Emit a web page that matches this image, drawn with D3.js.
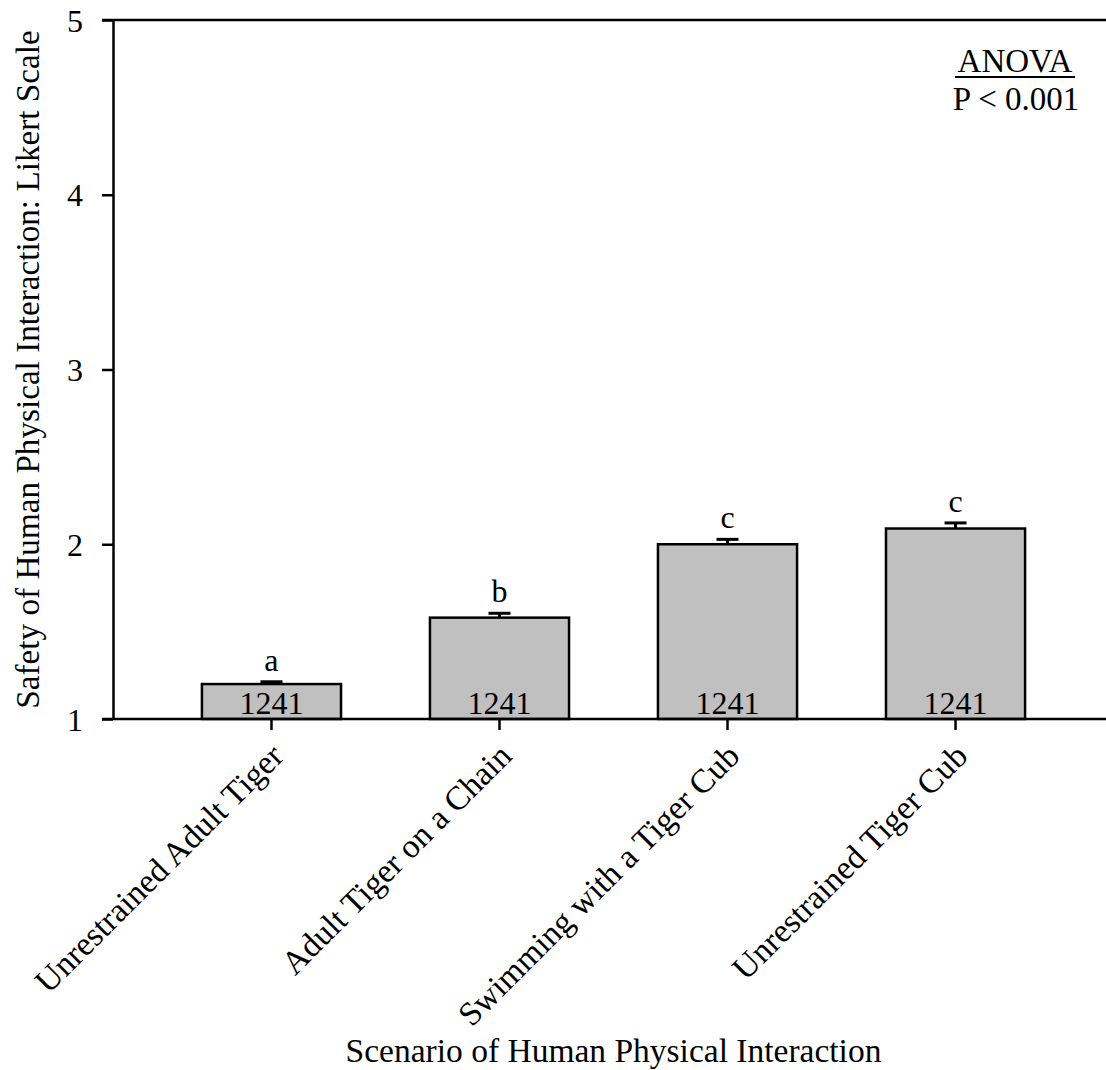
<!DOCTYPE html>
<html>
<head>
<meta charset="utf-8">
<script src="https://cdn.jsdelivr.net/npm/d3@7"></script>
<style>
  html, body { margin: 0; padding: 0; background: #fff; }
  svg text { font-family: "Liberation Serif", "Times New Roman", serif; fill: #000; }
</style>
</head>
<body>
<svg id="chart" width="1106" height="1070"></svg>
<script>
// Scenario categories and their mean safety ratings
const scenarios = [
  "Unrestrained Adult Tiger",
  "Adult Tiger on a Chain",
  "Swimming with a Tiger Cub",
  "Unrestrained Tiger Cub"
];
const means = [1.20, 1.58, 2.00, 2.09];
const stdErrors = [0.013, 0.025, 0.028, 0.032];
const groupLetters = ["a", "b", "c", "c"];
const sampleSizes = [1241, 1241, 1241, 1241];
const yTicks = [1, 2, 3, 4, 5];

const svg = d3.select("#chart");
const margin = { left: 113, top: 20, right: 1114, bottom: 719 };

const x = d3.scaleBand()
  .domain(scenarios)
  .range([margin.left, margin.right])
  .paddingInner(0.39)
  .paddingOuter(0.39);

const y = d3.scaleLinear()
  .domain([1, 5])
  .range([margin.bottom, margin.top]);

const rows = scenarios.map((s, i) => ({
  name: s, mean: means[i], se: stdErrors[i], letter: groupLetters[i], n: sampleSizes[i]
}));

// Bars
svg.append("g").selectAll("rect")
  .data(rows)
  .join("rect")
  .attr("x", d => x(d.name))
  .attr("y", d => y(d.mean))
  .attr("width", x.bandwidth())
  .attr("height", d => y(1) - y(d.mean))
  .attr("fill", "#c0c0c0")
  .attr("stroke", "#000")
  .attr("stroke-width", 2.5);

// Error bars (upper only)
const err = svg.append("g").attr("stroke", "#000").attr("stroke-width", 3);
rows.forEach(d => {
  const cx = x(d.name) + x.bandwidth() / 2;
  err.append("line")
    .attr("x1", cx).attr("x2", cx)
    .attr("y1", y(d.mean)).attr("y2", y(d.mean + d.se));
  err.append("line")
    .attr("x1", cx - 11).attr("x2", cx + 11)
    .attr("y1", y(d.mean + d.se)).attr("y2", y(d.mean + d.se));
});

// Significance letters
svg.append("g").selectAll("text")
  .data(rows)
  .join("text")
  .attr("x", d => x(d.name) + x.bandwidth() / 2)
  .attr("y", d => y(d.mean + d.se) - 11)
  .attr("text-anchor", "middle")
  .attr("font-size", 32)
  .text(d => d.letter);

// Sample sizes inside bars
svg.append("g").selectAll("text")
  .data(rows)
  .join("text")
  .attr("x", d => x(d.name) + x.bandwidth() / 2)
  .attr("y", y(1) - 5)
  .attr("text-anchor", "middle")
  .attr("font-size", 32)
  .text(d => d.n);

// Y axis
const yAxis = d3.axisLeft(y)
  .tickValues(yTicks)
  .tickFormat(d3.format("d"))
  .tickSize(11)
  .tickSizeOuter(0)
  .tickPadding(19);
const gy = svg.append("g")
  .attr("transform", `translate(${margin.left},0)`)
  .call(yAxis);
gy.select(".domain").attr("stroke-width", 2.5);
gy.selectAll(".tick line").attr("stroke-width", 2.5);
gy.selectAll(".tick text")
  .attr("font-family", "Liberation Serif, serif")
  .attr("font-size", 32)
  .attr("dy", "0.35em");

// X axis
const xAxis = d3.axisBottom(x).tickSize(11).tickSizeOuter(0).tickFormat("");
const gx = svg.append("g")
  .attr("transform", `translate(0,${margin.bottom})`)
  .call(xAxis);
gx.select(".domain").attr("stroke-width", 2.5)
  .attr("d", `M${margin.left - 11},0H${margin.right}`);
gx.selectAll(".tick line").attr("stroke-width", 2.5);

// Top frame line
svg.append("line")
  .attr("x1", margin.left - 11).attr("x2", margin.right)
  .attr("y1", margin.top).attr("y2", margin.top)
  .attr("stroke", "#000").attr("stroke-width", 2.5);

// Rotated category labels
svg.append("g").selectAll("text")
  .data(scenarios)
  .join("text")
  .attr("transform", d => `translate(${x(d) + x.bandwidth() / 2 + 14},758) rotate(-45)`)
  .attr("text-anchor", "end")
  .attr("font-size", 33.5)
  .text(d => d);

// Axis titles
svg.append("text")
  .attr("x", (margin.left + margin.right) / 2)
  .attr("y", 1062)
  .attr("text-anchor", "middle")
  .attr("font-size", 33.5)
  .text("Scenario of Human Physical Interaction");

svg.append("text")
  .attr("transform", `translate(39,${(margin.top + margin.bottom) / 2}) rotate(-90)`)
  .attr("text-anchor", "middle")
  .attr("font-size", 33.2)
  .text("Safety of Human Physical Interaction: Likert Scale");

// ANOVA annotation
svg.append("text")
  .attr("x", 1015).attr("y", 72)
  .attr("text-anchor", "middle")
  .attr("font-size", 33)
  .text("ANOVA");
svg.append("line")
  .attr("x1", 955).attr("x2", 1075)
  .attr("y1", 77).attr("y2", 77)
  .attr("stroke", "#000").attr("stroke-width", 2);
svg.append("text")
  .attr("x", 1016).attr("y", 110)
  .attr("text-anchor", "middle")
  .attr("font-size", 33)
  .text("P < 0.001");
</script>
</body>
</html>
